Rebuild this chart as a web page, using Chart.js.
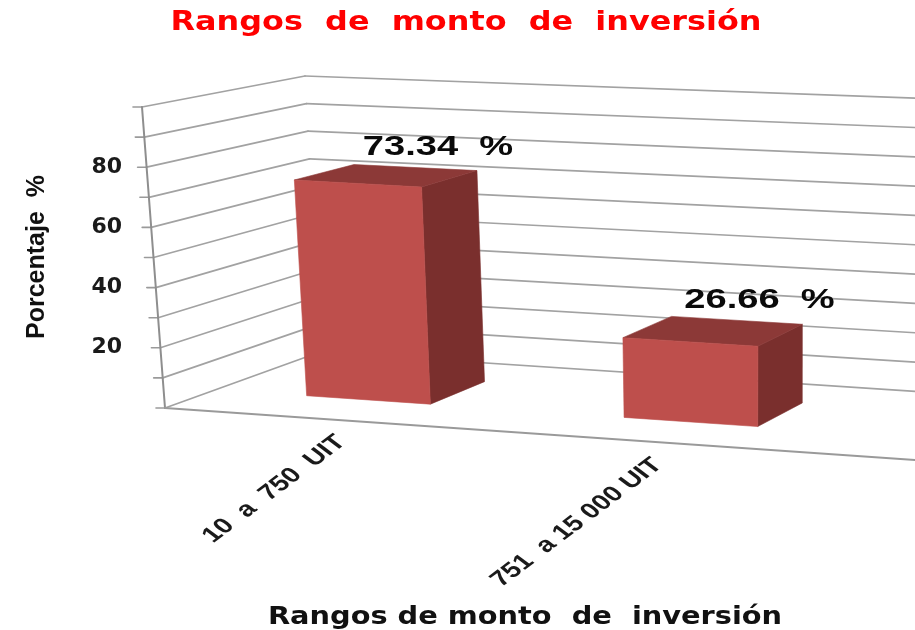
<!DOCTYPE html>
<html>
<head>
<meta charset="utf-8">
<style>html,body{margin:0;padding:0;background:#fff}canvas{display:block}</style>
<script src="https://cdn.jsdelivr.net/npm/chart.js@4/dist/chart.umd.min.js"></script>
</head>
<body>
<canvas id="c" width="915" height="630"></canvas>
<script>
const categories = ['10  a  750  UIT', '751  a 15 000 UIT'];
const values = [73.34, 26.66];
const valueLabels = ['73.34  %', '26.66  %'];
const labelledTicks = [20, 40, 60, 80];
const chartTitle = 'Rangos  de  monto  de  inversión';
const xTitle = 'Rangos de monto  de  inversión';
const yTitle = 'Porcentaje  %';

// Oblique view of the plot box: corners of the box on screen
const box = {
  flb:[165,408], flt:[142,107], blb:[320,352], blt:[305,76],
  frb:[915,460], frt:[925,152], brb:[1015,398], brt:[1020,102]
};
const depthFront = 0.33, depthBack = 0.72;
const lerp = (a,b,t) => [a[0]+(b[0]-a[0])*t, a[1]+(b[1]-a[1])*t];
function project(s,v,d){
  const fb = lerp(box.flb,box.frb,s), ft = lerp(box.flt,box.frt,s);
  const bb = lerp(box.blb,box.brb,s), bt = lerp(box.blt,box.brt,s);
  return lerp(lerp(fb,ft,v), lerp(bb,bt,v), d);
}
const sOfU = u => 0.813*u + 0.068*u*u;
function poly(ctx,pts,fill){
  ctx.beginPath();
  pts.forEach((p,i)=> i?ctx.lineTo(p[0],p[1]):ctx.moveTo(p[0],p[1]));
  ctx.closePath();
  ctx.fillStyle=fill; ctx.fill();
  ctx.strokeStyle=fill; ctx.lineWidth=0.6; ctx.stroke();
}
function seg(ctx,a,b,color,w){
  ctx.beginPath(); ctx.moveTo(a[0],a[1]); ctx.lineTo(b[0],b[1]);
  ctx.strokeStyle=color; ctx.lineWidth=w; ctx.stroke();
}
function wideText(ctx,text,cx,cy,font,color,stretch){
  ctx.save();
  ctx.translate(cx,cy);
  ctx.scale(stretch,1);
  ctx.font=font; ctx.fillStyle=color;
  ctx.textAlign='center'; ctx.textBaseline='middle';
  ctx.fillText(text,0,0);
  ctx.restore();
}

let area = null;
// Bars keep the library's element geometry, then go through the box projection
Chart.BarElement.prototype.draw = function(ctx){
  const {x,y,base,width} = this.getProps(['x','y','base','width']);
  const sx = px => sOfU((px-area.left)/(area.right-area.left));
  const vy = py => (area.bottom-py)/(area.bottom-area.top);
  const s0=sx(x-width/2), s1=sx(x+width/2), v0=vy(base), v1=vy(y);
  const a=project(s0,v0,depthFront), b=project(s1,v0,depthFront), c=project(s1,v1,depthFront), e=project(s0,v1,depthFront);
  const f=project(s1,v0,depthBack), g=project(s1,v1,depthBack), h=project(s0,v1,depthBack);
  ctx.save();
  poly(ctx,[b,f,g,c],'#7A2F2D');
  poly(ctx,[e,c,g,h],'#8C3937');
  poly(ctx,[a,b,c,e],this.options.backgroundColor);
  ctx.restore();
};

const wall3d = {
  id:'wall3d',
  beforeDatasetsDraw(chart){
    const {ctx,chartArea:A,scales:{y}} = chart;
    area = A;
    ctx.save();
    ctx.lineCap='round';
    y.ticks.forEach(t=>{
      const v=(A.bottom-y.getPixelForValue(t.value))/(A.bottom-A.top);
      const f=project(0,v,0), k=project(0,v,1), r=project(1,v,1);
      seg(ctx,[f[0]-9,f[1]],f,'#9a9a9a',1.6);
      seg(ctx,f,k,'#a2a2a2',1.7);
      seg(ctx,k,r,'#a2a2a2',1.7);
    });
    seg(ctx,project(0,0,0),project(0,1,0),'#8e8e8e',2);
    seg(ctx,project(0,0,0),project(1,0,0),'#9a9a9a',1.8);
    ctx.restore();
  },
  afterDatasetsDraw(chart){
    const {ctx,chartArea:A,scales:{x}} = chart;
    wideText(ctx,chartTitle,466,23,'bold 27px "DejaVu Sans"','#FF0000',1.18);
    wideText(ctx,xTitle,525,618,'bold 24px "DejaVu Sans"','#111',1.2);
    const meta=chart.getDatasetMeta(0);
    values.forEach((val,i)=>{
      const s=sOfU((meta.data[i].x-A.left)/(A.right-A.left));
      const p=project(s,val/100,depthBack);
      wideText(ctx,valueLabels[i],p[0]+23,p[1]-20,'bold 28px "Liberation Sans"','#0a0a0a',1.36);
    });
    categories.forEach((lab,i)=>{
      const s=sOfU((x.getPixelForTick(i)-A.left)/(A.right-A.left));
      const p=project(s,0,0);
      ctx.save();
      ctx.translate(34+0.958*p[0],p[1]+20);
      ctx.scale(1.33,1);
      ctx.rotate(-Math.PI/4);
      ctx.font='bold 21.5px "Liberation Sans"';
      ctx.fillStyle='#1a1a1a';
      ctx.textAlign='right'; ctx.textBaseline='middle';
      ctx.fillText(lab,0,0);
      ctx.restore();
    });
  }
};

new Chart(document.getElementById('c'),{
  type:'bar',
  plugins:[wall3d],
  data:{labels:categories,datasets:[{data:values,backgroundColor:'#BE4F4C',barPercentage:0.399,categoryPercentage:1,clip:false}]},
  options:{
    responsive:false,animation:false,
    layout:{padding:{left:18,right:0,top:107,bottom:223}},
    plugins:{legend:{display:false},tooltip:{enabled:false},title:{display:false}},
    scales:{
      x:{grid:{display:false,drawTicks:false},border:{display:false},ticks:{display:false},afterFit(s){s.height=0;}},
      y:{min:0,max:100,
        grid:{display:false,drawTicks:false},border:{display:false},
        afterFit(s){s.width=112;},
        ticks:{stepSize:10,padding:8,color:'#1a1a1a',autoSkip:false,
          font:{family:'"DejaVu Sans"',size:22,weight:'bold'},
          callback:v=>labelledTicks.includes(v)?String(v):''},
        title:{display:true,text:yTitle,color:'#111',
          font:{family:'"Liberation Sans Narrow","Liberation Sans"',size:25,weight:'bold',lineHeight:1.2},
          padding:{top:4,bottom:0}}}
    }
  }
});
</script>
</body>
</html>
